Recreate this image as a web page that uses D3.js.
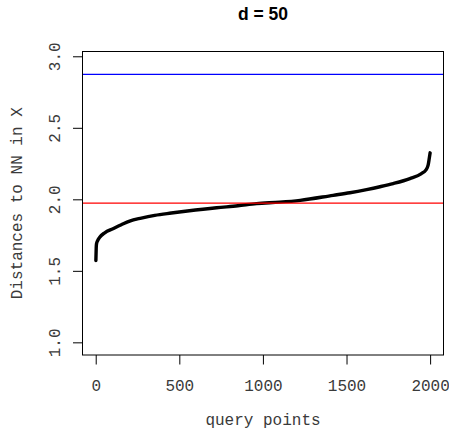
<!DOCTYPE html>
<html>
<head>
<meta charset="utf-8">
<script src="https://cdn.jsdelivr.net/npm/d3@7"></script>
<style>
  body { margin: 0; background: #fff; }
  svg { display: block; }
  .mono { font-family: "Liberation Mono", "DejaVu Sans Mono", monospace; font-size: 16px; fill: #3a3a3a; }
</style>
</head>
<body>
<div id="canvas"></div>
<script>
// sorted distances to nearest neighbour
var queryPts = [1, 3, 5, 12, 24, 54, 103, 153, 203, 273, 353, 452, 548, 723, 850, 962, 1100, 1223, 1420, 1520, 1620, 1700, 1779, 1879, 1948, 1974, 1988, 1994, 2000];
var nnDist   = [1.572, 1.66, 1.69, 1.712, 1.735, 1.766, 1.794, 1.822, 1.848, 1.869, 1.888, 1.904, 1.918, 1.941, 1.955, 1.970, 1.980, 1.993, 2.028, 2.046, 2.068, 2.088, 2.11, 2.145, 2.18, 2.204, 2.239, 2.28, 2.325];

// horizontal reference lines
var refValues = [2.874, 1.974];
var refColors = ["blue", "red"];

var xTicks = [0, 500, 1000, 1500, 2000];
var yTicks = [1.0, 1.5, 2.0, 2.5, 3.0];

var titleText = "d = 50";
var xLabel = "query points";
var yLabel = "Distances to NN in X";

var W = 449, H = 435;
var plot = {left: 82.5, right: 443.5, top: 51.5, bottom: 355};

var svg = d3.select("#canvas").append("svg")
    .attr("width", W)
    .attr("height", H);

// R style 4% padding on both axes
var x = d3.scaleLinear().domain([-79, 2080]).range([plot.left, plot.right]);
var y = d3.scaleLinear().domain([0.9115, 3.0335]).range([plot.bottom, plot.top]);

// clip so lines stay inside the box
svg.append("clipPath").attr("id", "clip")
  .append("rect")
    .attr("x", plot.left).attr("y", plot.top)
    .attr("width", plot.right - plot.left)
    .attr("height", plot.bottom - plot.top);

var pts = queryPts.map(function(q, i) { return [q, nnDist[i]]; });

var line = d3.line()
    .x(function(d) { return x(d[0]); })
    .y(function(d) { return y(d[1]); })
    .curve(d3.curveMonotoneX);

svg.append("path")
    .datum(pts)
    .attr("d", line)
    .attr("fill", "none")
    .attr("stroke", "#000")
    .attr("stroke-width", 3.4)
    .attr("stroke-linecap", "round")
    .attr("stroke-linejoin", "round");

svg.append("g").attr("clip-path", "url(#clip)")
  .selectAll("line.ref")
  .data(refValues)
  .enter().append("line")
    .attr("class", "ref")
    .attr("x1", plot.left).attr("x2", plot.right)
    .attr("y1", function(d) { return y(d); })
    .attr("y2", function(d) { return y(d); })
    .attr("stroke", function(d, i) { return refColors[i]; })
    .attr("stroke-width", 1.2);

// box
svg.append("rect")
    .attr("x", plot.left).attr("y", plot.top)
    .attr("width", plot.right - plot.left)
    .attr("height", plot.bottom - plot.top)
    .attr("fill", "none")
    .attr("stroke", "#000")
    .attr("stroke-width", 1);

// x axis
var xAxis = d3.axisBottom(x).tickValues(xTicks).tickSize(9.5).tickPadding(14)
    .tickFormat(d3.format("d"));
var gx = svg.append("g")
    .attr("transform", "translate(0," + plot.bottom + ")")
    .call(xAxis);
gx.select(".domain").remove();
gx.selectAll(".tick line").attr("stroke", "#000");
gx.selectAll(".tick text")
    .attr("class", "mono")
    .attr("dy", null)
    .attr("y", 35.5)
    .style("font-family", null).style("font-size", null);

// y axis, labels rotated like R's las = 0
var yAxis = d3.axisLeft(y).tickValues(yTicks).tickSize(9.5)
    .tickFormat(d3.format(".1f"));
var gy = svg.append("g")
    .attr("transform", "translate(" + plot.left + ",0)")
    .call(yAxis);
gy.select(".domain").remove();
gy.selectAll(".tick line").attr("stroke", "#000");
gy.selectAll(".tick text")
    .attr("class", "mono")
    .attr("x", null).attr("dy", null)
    .attr("text-anchor", "middle")
    .attr("transform", "translate(-22.5,0) rotate(-90)")
    .style("font-family", null).style("font-size", null);
gy.attr("font-size", null).attr("font-family", null);
gx.attr("font-size", null).attr("font-family", null);

// title and axis labels
svg.append("text")
    .attr("x", (plot.left + plot.right) / 2)
    .attr("y", 19.5)
    .attr("text-anchor", "middle")
    .style("font-family", "'Liberation Sans', Arial, sans-serif")
    .style("font-weight", "bold")
    .style("font-size", "17.5px")
    .text(titleText);

svg.append("text")
    .attr("class", "mono")
    .attr("x", (plot.left + plot.right) / 2)
    .attr("y", 425)
    .attr("text-anchor", "middle")
    .text(xLabel);

svg.append("text")
    .attr("class", "mono")
    .attr("text-anchor", "middle")
    .attr("transform", "translate(22," + ((plot.top + plot.bottom) / 2) + ") rotate(-90)")
    .text(yLabel);
</script>
</body>
</html>
